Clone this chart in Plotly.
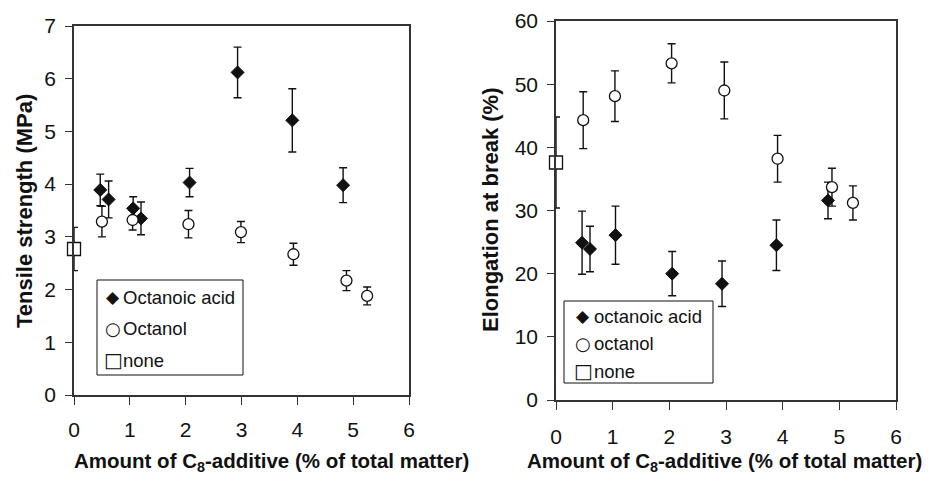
import plotly.graph_objects as go

# ---- Tensile strength (left panel) ----
ts_acid_x = [0.47, 0.62, 1.06, 1.20, 2.07, 2.93, 3.91, 4.82]
ts_acid_y = [3.89, 3.71, 3.54, 3.35, 4.03, 6.12, 5.21, 3.98]
ts_acid_err = [0.30, 0.35, 0.22, 0.31, 0.27, 0.48, 0.60, 0.33]

ts_ol_x = [0.50, 1.05, 2.05, 2.99, 3.93, 4.88, 5.25]
ts_ol_y = [3.29, 3.32, 3.24, 3.09, 2.67, 2.17, 1.88]
ts_ol_err = [0.29, 0.19, 0.26, 0.20, 0.21, 0.19, 0.17]

ts_none_x = [0.0]
ts_none_y = [2.77]
ts_none_err = [0.41]

# ---- Elongation at break (right panel) ----
el_acid_x = [0.46, 0.60, 1.05, 2.05, 2.93, 3.89, 4.80]
el_acid_y = [24.9, 23.9, 26.1, 20.0, 18.4, 24.5, 31.6]
el_acid_err = [5.0, 3.6, 4.6, 3.5, 3.6, 4.0, 2.9]

el_ol_x = [0.48, 1.04, 2.04, 2.97, 3.91, 4.87, 5.24]
el_ol_y = [44.3, 48.1, 53.3, 49.0, 38.2, 33.7, 31.2]
el_ol_err = [4.5, 4.0, 3.1, 4.5, 3.7, 3.0, 2.7]

el_none_x = [0.0]
el_none_y = [37.6]
el_none_err = [7.2]

left_names = ["Octanoic acid", "Octanol", "none"]
right_names = ["octanoic acid", "octanol", "none"]
legend_glyphs = ["\u25C6", "\u25CB", "\u25A1"]

x_ticks = [0, 1, 2, 3, 4, 5, 6]
ts_ticks = [0, 1, 2, 3, 4, 5, 6, 7]
el_ticks = [0, 10, 20, 30, 40, 50, 60]

FONT = "Arial, Liberation Sans, Helvetica, sans-serif"
INK = "#111111"
AX = "#333333"

# The page body keeps the browser's default 8px margin, so the figure is
# sized to fit the 948x482 window exactly and placed from window pixels.
WIN_W, WIN_H, OFF = 948, 482, 8
W, H = WIN_W - 2 * OFF, WIN_H - 2 * OFF


def px(xw):
    return (xw - OFF) / W


def py(yw):
    return (H + OFF - yw) / H


fig = go.Figure()


def err(vals):
    return dict(type="data", array=vals, visible=True, color=INK, thickness=1.4, width=4)


styles = [
    dict(symbol="diamond", size=10, color=INK, line=dict(color=INK, width=1)),
    dict(symbol="circle", size=11, color="white", line=dict(color=INK, width=1.3)),
    dict(symbol="square", size=13, color="white", line=dict(color=INK, width=1.3)),
]

left_sets = [(ts_acid_x, ts_acid_y, ts_acid_err), (ts_ol_x, ts_ol_y, ts_ol_err),
             (ts_none_x, ts_none_y, ts_none_err)]
right_sets = [(el_acid_x, el_acid_y, el_acid_err), (el_ol_x, el_ol_y, el_ol_err),
              (el_none_x, el_none_y, el_none_err)]

for i, (xs, ys, es) in enumerate(left_sets):
    fig.add_trace(go.Scatter(x=xs, y=ys, mode="markers", name=left_names[i],
                             marker=styles[i], error_y=err(es), cliponaxis=False,
                             xaxis="x", yaxis="y", showlegend=False))
for i, (xs, ys, es) in enumerate(right_sets):
    fig.add_trace(go.Scatter(x=xs, y=ys, mode="markers", name=right_names[i],
                             marker=styles[i], error_y=err(es), cliponaxis=False,
                             xaxis="x2", yaxis="y2", showlegend=False))


def xax(domain, standoff):
    return dict(domain=domain, range=[0, 6], tickvals=x_ticks, ticks="outside",
                ticklen=8, tickwidth=1.3, tickcolor=AX, showline=True, linecolor=AX,
                linewidth=1.5, mirror=True, showgrid=False, zeroline=False,
                tickfont=dict(family=FONT, size=21, color=INK),
                ticklabelstandoff=standoff, automargin=False, fixedrange=True)


def yax(domain, rng, tv):
    return dict(domain=domain, range=rng, tickvals=tv, ticks="outside",
                ticklen=7, tickwidth=1.3, tickcolor=AX, showline=True, linecolor=AX,
                linewidth=1.5, mirror=True, showgrid=False, zeroline=False,
                tickfont=dict(family=FONT, size=21, color=INK),
                ticklabelstandoff=5, automargin=False, fixedrange=True)


fig.update_layout(
    width=W, height=H,
    margin=dict(l=0, r=0, t=0, b=0),
    paper_bgcolor="white", plot_bgcolor="white",
    showlegend=False,
    xaxis=dict(xax([px(74), px(409)], 7), anchor="y"),
    yaxis=dict(yax([py(395), py(26)], [0, 7], ts_ticks), anchor="x"),
    xaxis2=dict(xax([px(556), px(896)], 9), anchor="y2"),
    yaxis2=dict(yax([py(400), py(21)], [0, 60], el_ticks), anchor="x2"),
)


# ---- legends (box + symbol + label) ----
def add_legend(box, sym_x, text_x, rows, names):
    x0, y0, x1, y1 = box
    fig.add_shape(type="rect", xref="paper", yref="paper",
                  x0=px(x0), x1=px(x1), y0=py(y1), y1=py(y0),
                  line=dict(color=INK, width=1), fillcolor="white", layer="above")
    sym_sizes = [17, 18, 20]
    for j, (ry, name) in enumerate(zip(rows, names)):
        fig.add_annotation(text=legend_glyphs[j], xref="paper", yref="paper",
                           x=px(sym_x), y=py(ry), xanchor="center", yanchor="middle",
                           showarrow=False,
                           font=dict(family="DejaVu Sans", size=sym_sizes[j], color=INK))
        fig.add_annotation(text=name, xref="paper", yref="paper",
                           x=px(text_x), y=py(ry), xanchor="left", yanchor="middle",
                           showarrow=False, xshift=-2,
                           font=dict(family=FONT, size=18.5, color=INK))


add_legend((97, 280, 243, 375), 113, 123, [297, 328, 360], left_names)
add_legend((564, 301, 713, 383), 583, 594, [316, 343, 371], right_names)

title_font = dict(family=FONT, size=20.5, color=INK)
xtitle = "<b>Amount of C<sub>8</sub>-additive (% of total matter)</b>"
fig.add_annotation(text=xtitle, xref="paper", yref="paper", x=px(271), y=py(462),
                   xanchor="center", yanchor="middle", showarrow=False, font=title_font)
fig.add_annotation(text=xtitle, xref="paper", yref="paper", x=px(724), y=py(462),
                   xanchor="center", yanchor="middle", showarrow=False, font=title_font)
ytitle_font = dict(family=FONT, size=22, color=INK)
fig.add_annotation(text="<b>Tensile strength (MPa)</b>", xref="paper", yref="paper",
                   x=px(24), y=py(211), xanchor="center", yanchor="middle",
                   textangle=-90, showarrow=False, font=ytitle_font)
fig.add_annotation(text="<b>Elongation at break (%)</b>", xref="paper", yref="paper",
                   x=px(490), y=py(210), xanchor="center", yanchor="middle",
                   textangle=-90, showarrow=False, font=ytitle_font)

fig.write_html("out.html")
